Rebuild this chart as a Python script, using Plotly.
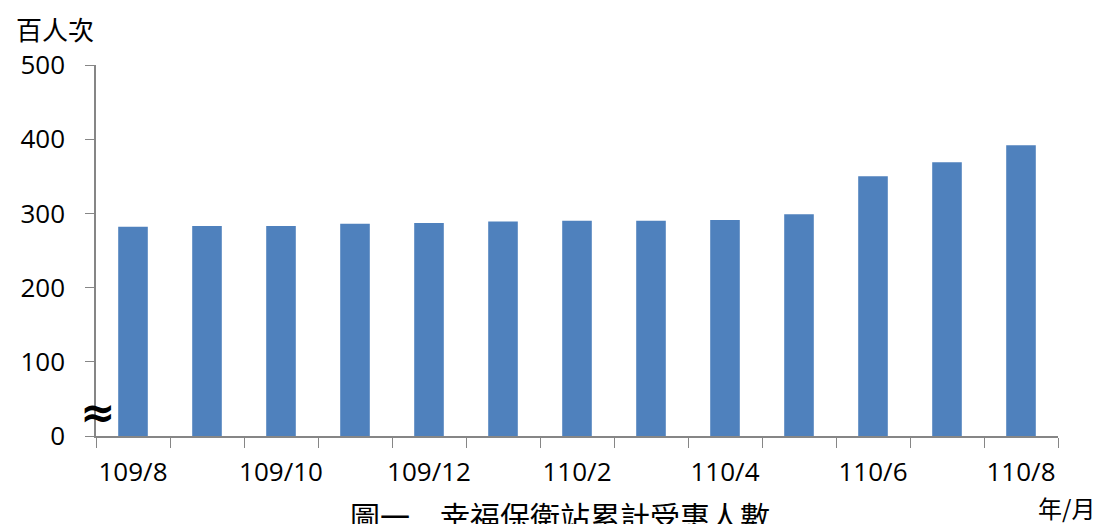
import plotly.graph_objects as go

months = ["109/8", "109/9", "109/10", "109/11", "109/12", "110/1", "110/2",
          "110/3", "110/4", "110/5", "110/6", "110/7", "110/8"]
values = [282, 283, 283, 286, 287, 289, 290, 290, 291, 299, 350, 369, 392]
tick_text = [m if i % 2 == 0 else "" for i, m in enumerate(months)]
y_ticks = [0, 100, 200, 300, 400, 500]

FONT = "Open Sans, Noto Sans CJK TC, sans-serif"
CJK = "Noto Sans CJK TC, sans-serif"
AXIS_COLOR = "#868686"

fig = go.Figure(go.Bar(x=months, y=values, marker=dict(color="#4F81BD", line=dict(width=0)),
                       width=0.4))

fig.update_layout(
    width=1103, height=524,
    paper_bgcolor="white", plot_bgcolor="white",
    margin=dict(l=84, r=53, t=57, b=96),
    showlegend=False,
    font=dict(family=FONT, size=26, color="black"),
    xaxis=dict(
        type="category", tickvals=months, ticktext=tick_text,
        tickson="boundaries", ticks="outside", ticklen=10, tickcolor=AXIS_COLOR,
        showline=True, linecolor=AXIS_COLOR, linewidth=1.5,
        showgrid=False, tickangle=0, range=[-0.5, 12.5],
        tickfont=dict(family=FONT, size=26), ticklabelstandoff=12,
    ),
    yaxis=dict(
        range=[0, 500], tickvals=y_ticks, ticks="outside", ticklen=9,
        tickcolor=AXIS_COLOR, showline=True, linecolor=AXIS_COLOR, linewidth=1.5,
        showgrid=False, zeroline=False, tickfont=dict(family=FONT, size=26),
        ticklabelstandoff=15,
    ),
    annotations=[
        dict(text="百人次", xref="paper", yref="paper", x=0, y=1.0, yshift=37,
             xshift=-82, xanchor="left", yanchor="middle", showarrow=False,
             font=dict(family=CJK, size=26)),
        dict(text="年/月", xref="paper", yref="paper", x=1.0, y=0, yshift=-71,
             xanchor="left", xshift=-22, yanchor="middle", showarrow=False,
             font=dict(family=CJK, size=24)),
        dict(text="圖一　幸福保衛站累計受惠人數", xref="paper", yref="paper", x=0.5, y=0,
             yshift=-55, xshift=-17, xanchor="center", yanchor="top", showarrow=False,
             font=dict(family=CJK, size=30)),
        dict(text="<b>≈</b>", xref="paper", yref="y", x=0, y=32, xshift=1,
             xanchor="center", yanchor="middle", showarrow=False,
             font=dict(family="DejaVu Sans, sans-serif", size=42)),
    ],
)

fig.write_html("out.html")
